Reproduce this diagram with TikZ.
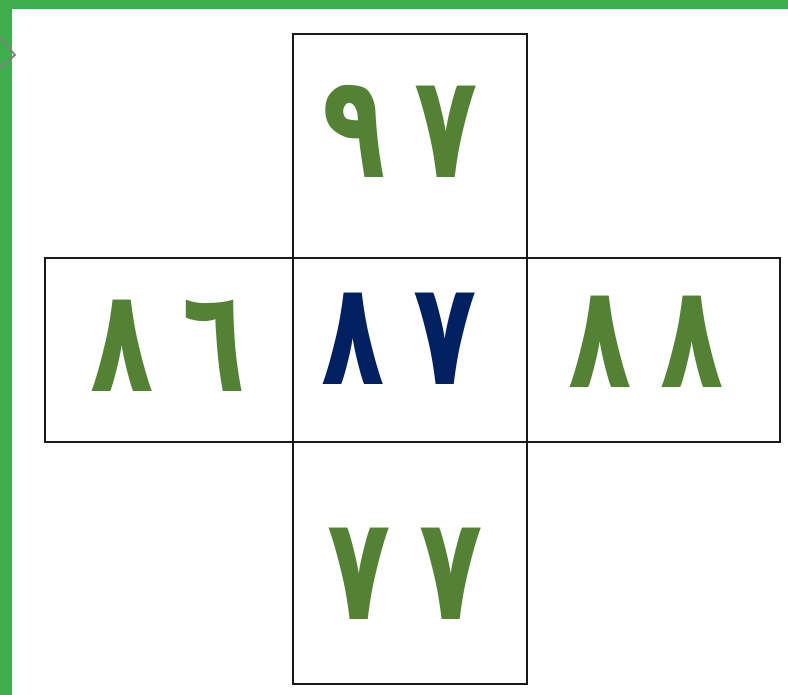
\documentclass[tikz,border=0pt]{standalone}
\usepackage{fontspec}
\newfontfamily\arabicfont[Script=Arabic]{DejaVu Sans}
\usepackage{tikz}
\definecolor{framegreen}{HTML}{3DAE4B}
\definecolor{digitgreen}{HTML}{548235}
\definecolor{digitnavy}{HTML}{002060}

\begin{document}
\begin{tikzpicture}[x=0.02cm,y=-0.02cm,
  cell/.style={draw=black!90,line width=1.2pt},
  num/.style={text=digitgreen,font=\arabicfont\bfseries\fontsize{82}{90}\selectfont,inner sep=0pt,xscale=0.72}
]
\useasboundingbox (0,0) rectangle (788,695);
\fill[white] (0,0) rectangle (788,695);
% frame
\fill[framegreen] (0,0) rectangle (788,9);
\fill[framegreen] (0,0) rectangle (12,695);
\draw[line width=1pt,draw=gray] (0,37) -- (15,55) -- (0,68);
% cells
\draw[cell] (293,34) rectangle (527,258);
\draw[cell] (45,258) rectangle (293,442);
\draw[cell] (293,258) rectangle (527,442);
\draw[cell] (527,258) rectangle (780,442);
\draw[cell] (293,442) rectangle (527,684);
% numbers
\node[num] (up) at (400,131) {٩\hspace{0.28em}٧};
\node[num] (left) at (168,346) {٨\hspace{0.28em}٦};
\node[num,text=digitnavy] (mid) at (399,339) {٨\hspace{0.28em}٧};
\node[num] (right) at (646,342) {٨\hspace{0.28em}٨};
\node[num] (down) at (405,574) {٧\hspace{0.28em}٧};
\end{tikzpicture}
\end{document}
